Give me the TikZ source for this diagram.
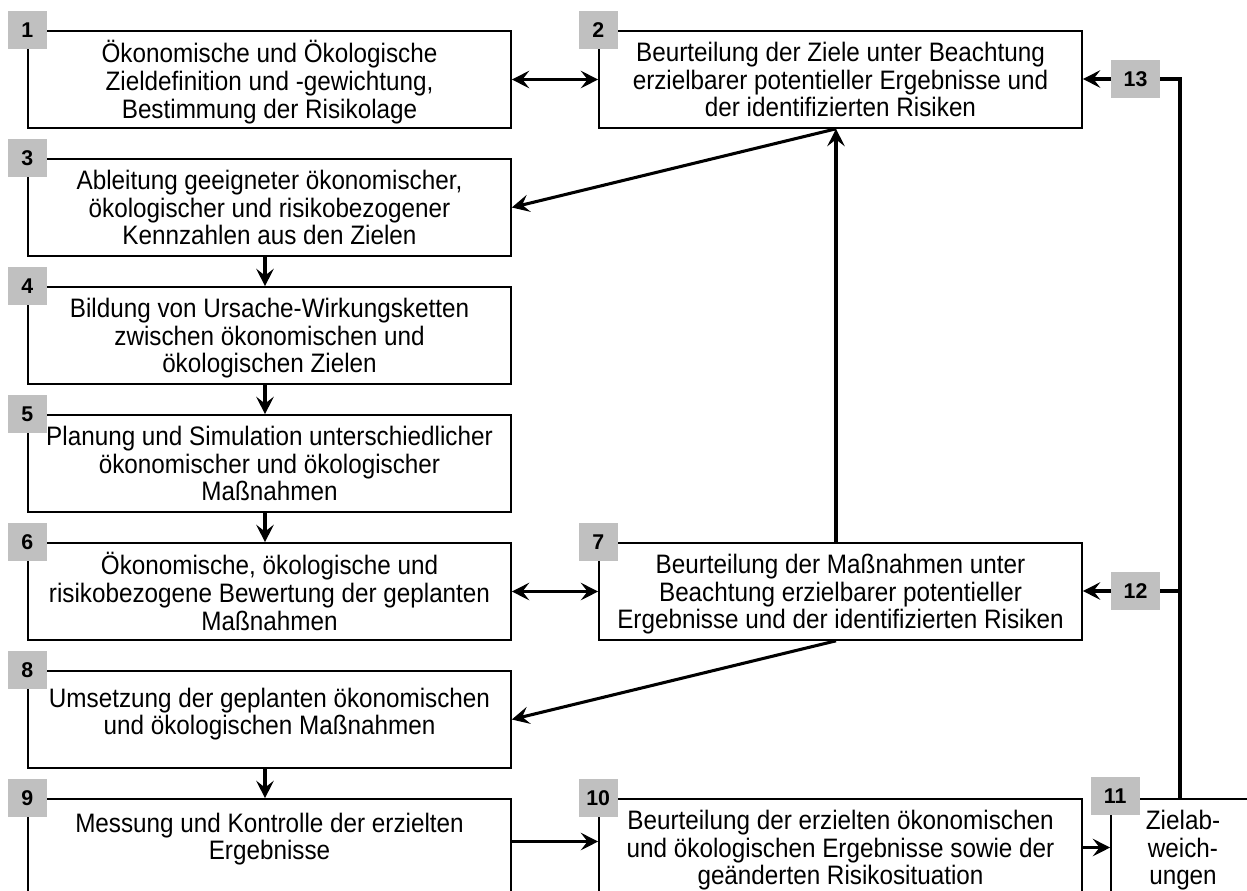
\documentclass[tikz,border=0pt]{standalone}
\usepackage{fontspec}
\usepackage{graphicx}
\setmainfont{Liberation Sans}
\usetikzlibrary{arrows.meta,calc}
\definecolor{tagfill}{HTML}{C0C0C0}
% centred lines of step text, set slightly taller than wide
\newcommand\steptext[1]{\scalebox{1}[1.1]{\fontsize{18.2}{18.7}\selectfont\begin{tabular}{@{}c@{}}#1\end{tabular}}}
\begin{document}
\begin{tikzpicture}[x=0.75pt,y=-0.75pt,
  box/.style={draw, line width=1.2pt, rectangle, minimum width=362.25pt, minimum height=72.75pt, inner sep=0pt},
  smallbox/.style={box, minimum width=108pt},
  txt/.style={inner sep=0pt, yshift=-3pt},
  tag/.style={fill=tagfill, minimum width=29.25pt, minimum height=28.5pt, inner sep=0pt, font=\fontsize{16}{18}\selectfont\bfseries},
  widetag/.style={tag, minimum width=36.75pt},
  arr/.style={line width=2.3pt, -{Stealth[length=13pt,width=13pt,inset=5pt]}},
  biarr/.style={line width=2.3pt, {Stealth[length=13pt,width=13pt,inset=5pt]}-{Stealth[length=13pt,width=13pt,inset=5pt]}},
  rail/.style={line width=2.3pt}
]
\useasboundingbox (0,0) rectangle (1247,890);
\clip (0,0) rectangle (1247,890);
\fill[white] (0,0) rectangle (1247,890);

% left column of steps
\node[box] (b1) at (269.5,79.5) {};
\node[box] (b3) at (269.5,207.5) {};
\node[box] (b4) at (269.5,335.5) {};
\node[box] (b5) at (269.5,463.5) {};
\node[box] (b6) at (269.5,591.5) {};
\node[box] (b8) at (269.5,719.5) {};
\node[box] (b9) at (269.5,847.5) {};
% right column of steps
\node[box] (b2) at (840.5,79.5) {};
\node[box] (b7) at (840.5,591.5) {};
\node[box] (b10) at (840.5,847.5) {};
\node[smallbox] (b11) at (1183,847.5) {};

% texts
\node[txt] (t1) at (b1) {\steptext{Ökonomische und Ökologische\\Zieldefinition und -gewichtung,\\Bestimmung der Risikolage}};
\node[txt] (t2) at (b2) {\steptext{Beurteilung der Ziele unter Beachtung\\erzielbarer potentieller Ergebnisse und\\der identifizierten Risiken}};
\node[txt] (t3) at (b3) {\steptext{Ableitung geeigneter ökonomischer,\\ökologischer und risikobezogener\\Kennzahlen aus den Zielen}};
\node[txt] (t4) at (b4) {\steptext{Bildung von Ursache-Wirkungsketten\\zwischen ökonomischen und\\ökologischen Zielen}};
\node[txt] (t5) at (b5) {\steptext{Planung und Simulation unterschiedlicher\\ökonomischer und ökologischer\\Maßnahmen}};
\node[txt] (t6) at (b6) {\steptext{Ökonomische, ökologische und\\risikobezogene Bewertung der geplanten\\Maßnahmen}};
\node[txt] (t7) at (b7) {\steptext{Beurteilung der Maßnahmen unter\\Beachtung erzielbarer potentieller\\Ergebnisse und der identifizierten Risiken}};
\node[txt] (t8) at ($(b8)+(0,-8)$) {\steptext{Umsetzung der geplanten ökonomischen\\und ökologischen Maßnahmen}};
\node[txt] (t9) at ($(b9)+(0,-11)$) {\steptext{Messung und Kontrolle der erzielten\\Ergebnisse}};
\node[txt] (t10) at (b10) {\steptext{Beurteilung der erzielten ökonomischen\\und ökologischen Ergebnisse sowie der\\geänderten Risikosituation}};
\node[txt] (t11) at (b11) {\steptext{Zielab-\\weich-\\ungen}};

% guide lines for the connectors
\coordinate (spine) at (265,0);
\coordinate (col) at (836,0);
\coordinate (rail) at (1180,0);

% number tags
\node[tag] (l1) at (b1.north west) {1};
\node[tag] (l2) at (b2.north west) {2};
\node[tag] (l3) at (b3.north west) {3};
\node[tag] (l4) at (b4.north west) {4};
\node[tag] (l5) at (b5.north west) {5};
\node[tag] (l6) at (b6.north west) {6};
\node[tag] (l7) at (b7.north west) {7};
\node[tag] (l8) at (b8.north west) {8};
\node[tag] (l9) at (b9.north west) {9};
\node[tag] (l10) at (b10.north west) {10};
\node[widetag] (l11) at ($(b11.north west)+(5,-2)$) {11};
\node[widetag] (l12) at (1135.5,591) {12};
\node[widetag] (l13) at (1135.5,79) {13};

% connectors
\draw[biarr] (b1.east) -- (b2.west);
\draw[biarr] (b6.east) -- (b7.west);
\draw[arr] (b3.south -| spine) -- (b4.north -| spine);
\draw[arr] (b4.south -| spine) -- (b5.north -| spine);
\draw[arr] (b5.south -| spine) -- (b6.north -| spine);
\draw[arr] (b8.south -| spine) -- (b9.north -| spine);
\draw[arr] (b7.north -| col) -- (b2.south -| col);
\draw[arr] (b2.south -| col) -- (b3.east);
\draw[arr] (b7.south -| col) -- (b8.east);
\draw[arr] ($(b9.east)+(0,-6)$) -- ($(b10.west)+(0,-6)$);
\draw[arr] (b10.east) -- (b11.west);
\draw[arr] (l13.west) -- (l13.west -| b2.east);
\draw[arr] (l12.west) -- (l12.west -| b7.east);
\draw[rail] (l13.east) -| (rail |- b11.north);
\draw[rail] (l12.east) -- (l12.east -| rail);
\end{tikzpicture}
\end{document}
